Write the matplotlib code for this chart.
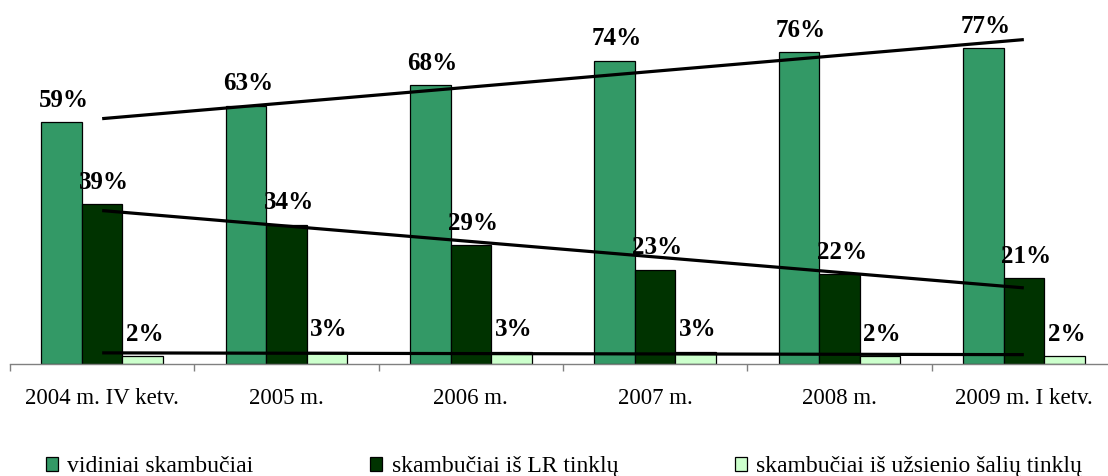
import numpy as np
import matplotlib
matplotlib.use("Agg")
import matplotlib.pyplot as plt
from matplotlib.patches import Patch

categories = ["2004 m. IV ketv.", "2005 m.", "2006 m.", "2007 m.", "2008 m.", "2009 m. I ketv."]
vidiniai = [59, 63, 68, 74, 76, 77]
lr_tinklu = [39, 34, 29, 23, 22, 21]
uzsienio = [2, 3, 3, 3, 2, 2]
series_names = ["vidiniai skambučiai", "skambučiai iš LR tinklų", "skambučiai iš užsienio šalių tinklų"]
colors = ["#339966", "#003300", "#CCFFCC"]

plt.rcParams['font.family'] = ['Liberation Serif', 'DejaVu Serif']

W, H = 1108, 476
fig = plt.figure(figsize=(W / 100, H / 100), dpi=100)
ax = fig.add_axes([10 / W, (H - 364) / H, 1106 / W, 364 / H])

x = np.arange(len(categories))
w = 0.22
all_series = [vidiniai, lr_tinklu, uzsienio]
offsets = [-w, 0, w]
for vals, off, col in zip(all_series, offsets, colors):
    ax.bar(x + off, vals, width=w, color=col, edgecolor='black', linewidth=0.9, zorder=2)
    for xi, v in zip(x, vals):
        ax.annotate(f"{v}%", (xi + off, v), xytext=(1.5, 11), textcoords='offset points',
                    ha='center', va='baseline', fontsize=18, fontweight='bold', zorder=4)

# linear trend lines
for vals in all_series:
    p = np.polyfit(x, vals, 1)
    ax.plot([x[0], x[-1]], np.polyval(p, [x[0], x[-1]]), color='black', linewidth=2.3,
            zorder=3, solid_capstyle='butt')

ax.set_xlim(-0.5, len(categories) - 0.5)
ax.set_ylim(0, 88.8)

for s in ['top', 'right', 'left']:
    ax.spines[s].set_visible(False)
ax.spines['bottom'].set_color('#808080')
ax.spines['bottom'].set_linewidth(1.0)
ax.set_yticks([])

ax.set_xticks(np.arange(len(categories) + 1) - 0.5)
ax.set_xticklabels([])
ax.tick_params(axis='x', which='major', length=5, width=1, color='#808080', direction='out')
ax.set_xticks(x, minor=True)
ax.set_xticklabels(categories, minor=True, fontsize=16.5)
ax.tick_params(axis='x', which='minor', length=0, pad=17)

handles = [Patch(facecolor=c, edgecolor='black', linewidth=0.9) for c in colors]
fig.legend(handles, series_names, loc='lower left', bbox_to_anchor=(46 / W, -0.003),
           ncol=3, frameon=False, fontsize=17, handlelength=0.5, handleheight=0.5,
           handletextpad=0.4, columnspacing=4.95, borderpad=0, borderaxespad=0)

fig.savefig("out.png", dpi=100)
